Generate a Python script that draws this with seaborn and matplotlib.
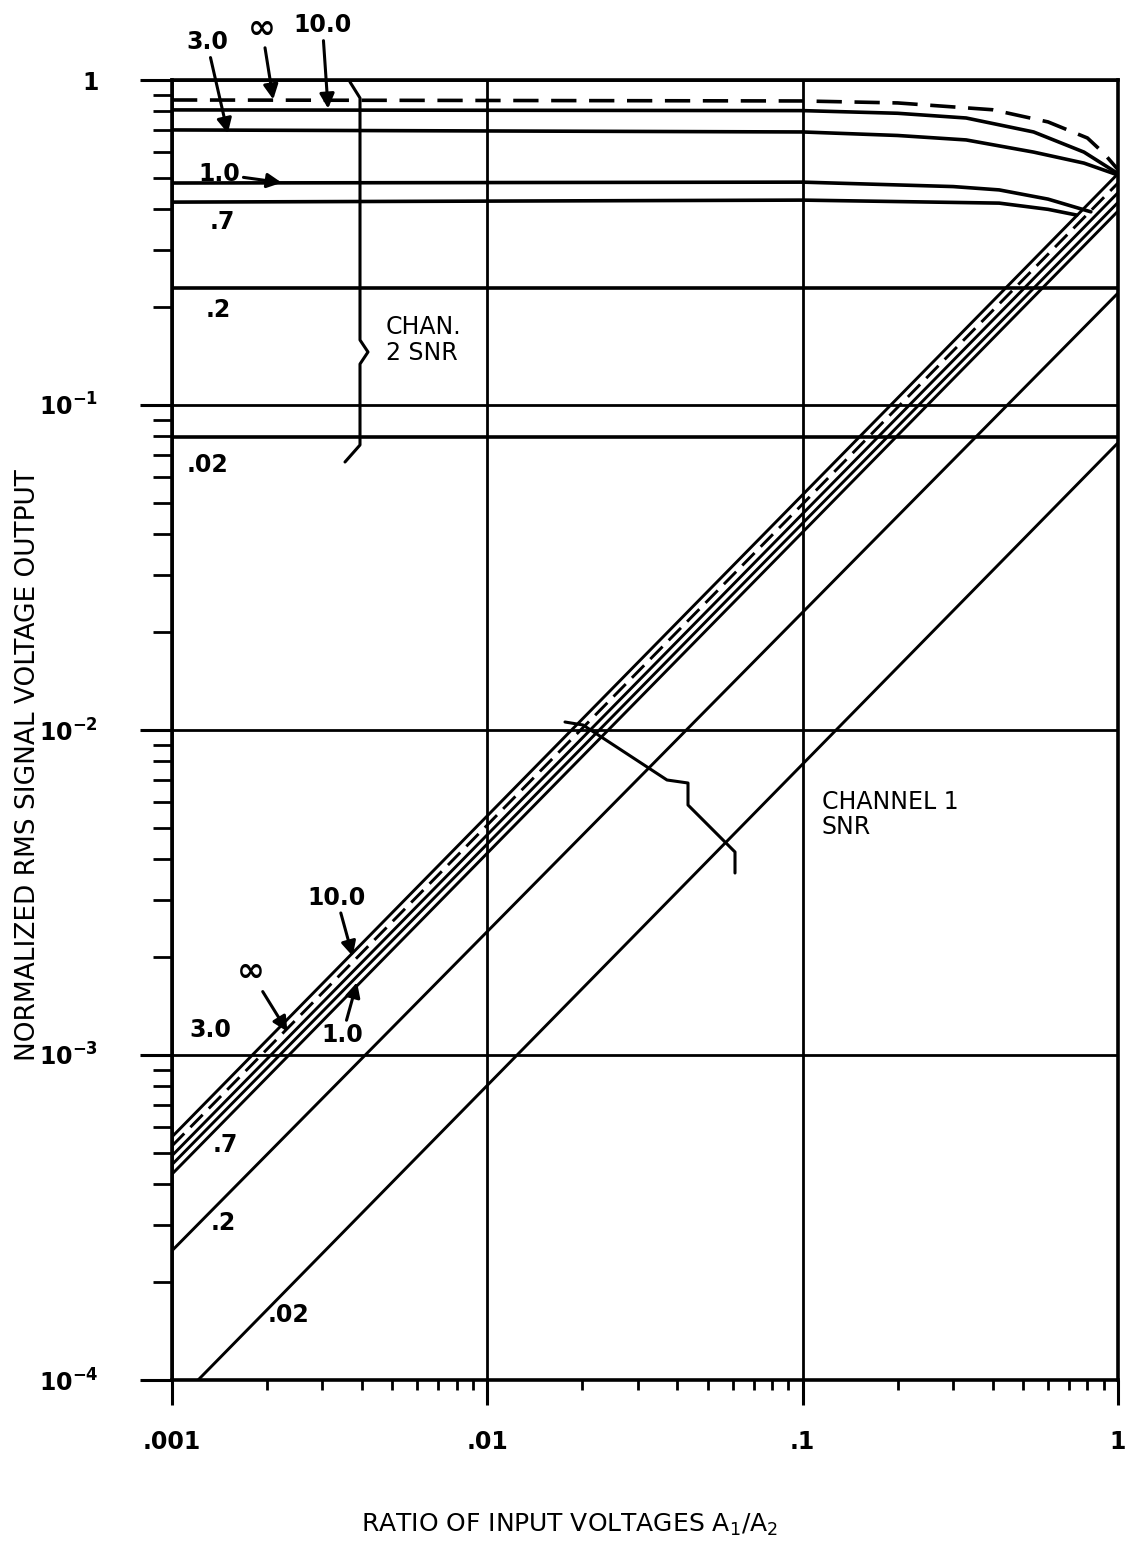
import numpy as np
import pandas as pd
import seaborn as sns
import matplotlib.pyplot as plt

# ratio of input voltages A1/A2 (x) and normalized output (y)

# channel 2 SNR curves (flat, rolling off near A1/A2 = 1)
ch2_inf_x = [0.001, 0.1, 0.2, 0.4, 0.6, 0.8, 0.9, 1.0]
ch2_inf_y = [0.868, 0.862, 0.85, 0.81, 0.743, 0.663, 0.596, 0.53]
ch2_10_x = [0.001, 0.1, 0.2, 0.33, 0.54, 0.78, 1.0]
ch2_10_y = [0.809, 0.805, 0.79, 0.764, 0.692, 0.60, 0.515]
ch2_3_x = [0.001, 0.1, 0.2, 0.33, 0.54, 0.78, 1.0]
ch2_3_y = [0.702, 0.692, 0.675, 0.654, 0.60, 0.555, 0.51]
ch2_1_x = [0.001, 0.1, 0.3, 0.42, 0.6, 0.82]
ch2_1_y = [0.482, 0.485, 0.47, 0.459, 0.43, 0.393]
ch2_07_x = [0.001, 0.1, 0.42, 0.6, 0.74]
ch2_07_y = [0.421, 0.427, 0.418, 0.40, 0.384]
ch2_02_x = [0.001, 1.0]
ch2_02_y = [0.229, 0.229]
ch2_002_x = [0.001, 1.0]
ch2_002_y = [0.0797, 0.0797]

# channel 1 SNR lines (straight in log-log)
ch1_x = [0.001, 1.0]
ch1_10_y = [5.6e-4, 0.515]
ch1_inf_y = [5.25e-4, 0.482]
ch1_3_y = [4.9e-4, 0.45]
ch1_1_y = [4.6e-4, 0.42]
ch1_07_y = [4.3e-4, 0.395]
ch1_02_x = [0.001, 1.0]
ch1_02_y = [2.5e-4, 0.221]
ch1_002_x = [0.00121, 1.0]
ch1_002_y = [1e-4, 0.0765]

x_ticks = [0.001, 0.01, 0.1, 1]
x_ticklabels = ['.001', '.01', '.1', '1']
y_ticks = [1e-4, 1e-3, 1e-2, 1e-1, 1]
y_ticklabels = ['$\\mathregular{10^{-4}}$', '$\\mathregular{10^{-3}}$', '$\\mathregular{10^{-2}}$',
                '$\\mathregular{10^{-1}}$', '1']

sns.set_style('ticks')
plt.rcParams['font.family'] = ['DejaVu Sans']
plt.rcParams['text.color'] = 'black'
plt.rcParams['xtick.labelcolor'] = 'black'
plt.rcParams['ytick.labelcolor'] = 'black'

f = plt.figure(figsize = (11.28, 15.5), dpi = 100)
ax1 = f.add_axes([172/1128, 1 - 1380/1550, 946/1128, 1300/1550])

solid = dict(color = 'black', lw = 2.6, estimator = None, ax = ax1)
thin = dict(color = 'black', lw = 2.1, estimator = None, ax = ax1)

# channel 2
sns.lineplot(x = ch2_inf_x, y = ch2_inf_y, linestyle = (0, (7, 3.5)), **solid)
sns.lineplot(x = ch2_10_x, y = ch2_10_y, **solid)
sns.lineplot(x = ch2_3_x, y = ch2_3_y, **solid)
sns.lineplot(x = ch2_1_x, y = ch2_1_y, **solid)
sns.lineplot(x = ch2_07_x, y = ch2_07_y, **solid)
sns.lineplot(x = ch2_02_x, y = ch2_02_y, **solid)
sns.lineplot(x = ch2_002_x, y = ch2_002_y, **solid)

# channel 1
sns.lineplot(x = ch1_x, y = ch1_10_y, **thin)
sns.lineplot(x = ch1_x, y = ch1_inf_y, linestyle = (0, (6, 3)), **thin)
sns.lineplot(x = ch1_x, y = ch1_3_y, **thin)
sns.lineplot(x = ch1_x, y = ch1_1_y, **thin)
sns.lineplot(x = ch1_x, y = ch1_07_y, **thin)
sns.lineplot(x = ch1_02_x, y = ch1_02_y, **thin)
sns.lineplot(x = ch1_002_x, y = ch1_002_y, **thin)

ax1.set_xscale('log')
ax1.set_yscale('log')
ax1.set_xlim(0.001, 1)
ax1.set_ylim(1e-4, 1)

ax1.grid(which = 'major', color = 'black', lw = 2.0)
ax1.grid(which = 'minor', visible = False)
for s in ax1.spines.values():
    s.set_visible(True)
    s.set_color('black')
    s.set_linewidth(2.6)

ax1.set_xticks(x_ticks)
ax1.set_xticklabels(x_ticklabels, fontsize = 17, fontweight = 'bold')
ax1.set_yticks(y_ticks)
ax1.set_yticklabels(y_ticklabels, fontsize = 17, fontweight = 'bold')
ax1.tick_params(which = 'both', bottom = True, left = True, top = False, right = False, color = 'black')
ax1.tick_params(which = 'major', axis = 'x', direction = 'out', length = 18, width = 2.2, pad = 18)
ax1.tick_params(which = 'major', axis = 'y', direction = 'out', length = 23, width = 2.2, pad = 30)
ax1.tick_params(which = 'minor', axis = 'x', direction = 'out', length = 7, width = 2.0)
ax1.tick_params(which = 'minor', axis = 'y', direction = 'out', length = 14, width = 2.0)
ax1.tick_params(which = 'minor', labelbottom = False, labelleft = False)
ax1.set_xlabel('')
ax1.set_ylabel('')

# labels, channel 2
lab = dict(xycoords = 'axes fraction', textcoords = 'axes fraction', fontsize = 17, fontweight = 'bold',
           ha = 'center', va = 'center', annotation_clip = False)
arr = dict(arrowstyle = '-|>', color = 'black', lw = 2.2, mutation_scale = 22, shrinkA = 0, shrinkB = 0)

ax1.annotate('3.0', xy = (0.059, 0.959), xytext = (0.037, 1.029), arrowprops = arr, **lab)
ax1.annotate('\u221e', xy = (0.107, 0.985), xytext = (0.095, 1.040), arrowprops = arr, **dict(lab, fontsize = 24))
ax1.annotate('10.0', xy = (0.165, 0.978), xytext = (0.159, 1.042), arrowprops = arr, **lab)
ax1.annotate('1.0', xy = (0.116, 0.921), xytext = (0.050, 0.9277), arrowprops = arr, **lab)
ax1.annotate('.7', xy = (0.053, 0.891), **lab)
ax1.annotate('.2', xy = (0.049, 0.823), **lab)
ax1.annotate('.02', xy = (0.038, 0.704), **lab)
ax1.annotate('CHAN.\n2 SNR', xy = (0.226, 0.80), **dict(lab, ha = 'left', fontweight = 'normal', linespacing = 1.1))

brace2_x = np.array([350, 360, 360, 368, 360, 360, 345])
brace2_y = np.array([82, 98, 340, 352, 364, 445, 462])
ax1.plot((brace2_x - 172) / 946, (1380 - brace2_y) / 1300, color = 'black', lw = 2.2,
         transform = ax1.transAxes, clip_on = False)

# labels, channel 1
ax1.annotate('10.0', xy = (0.191, 0.326), xytext = (0.174, 0.371), arrowprops = arr, **lab)
ax1.annotate('\u221e', xy = (0.122, 0.268), xytext = (0.083, 0.314), arrowprops = arr, **dict(lab, fontsize = 24))
ax1.annotate('3.0', xy = (0.040, 0.269), **lab)
ax1.annotate('1.0', xy = (0.1956, 0.306), xytext = (0.180, 0.265), arrowprops = arr, **lab)
ax1.annotate('.7', xy = (0.056, 0.181), **lab)
ax1.annotate('.2', xy = (0.054, 0.121), **lab)
ax1.annotate('.02', xy = (0.123, 0.050), **lab)
ax1.annotate('CHANNEL 1\nSNR', xy = (0.687, 0.435), **dict(lab, ha = 'left', fontweight = 'normal', linespacing = 1.1))

brace1_x = np.array([565, 583, 667, 688, 688, 735, 735])
brace1_y = np.array([722, 725, 780, 783, 805, 852, 873])
ax1.plot((brace1_x - 172) / 946, (1380 - brace1_y) / 1300, color = 'black', lw = 2.2,
         transform = ax1.transAxes)

f.text(28/1128, 1 - 765/1550, 'NORMALIZED RMS SIGNAL VOLTAGE OUTPUT', rotation = 90,
       ha = 'center', va = 'center', fontsize = 19)
f.text(570/1128, 1 - 1525/1550, 'RATIO OF INPUT VOLTAGES A$\\mathregular{_1}$/A$\\mathregular{_2}$',
       ha = 'center', va = 'center', fontsize = 18)

f.savefig('out.png', dpi = 100)
